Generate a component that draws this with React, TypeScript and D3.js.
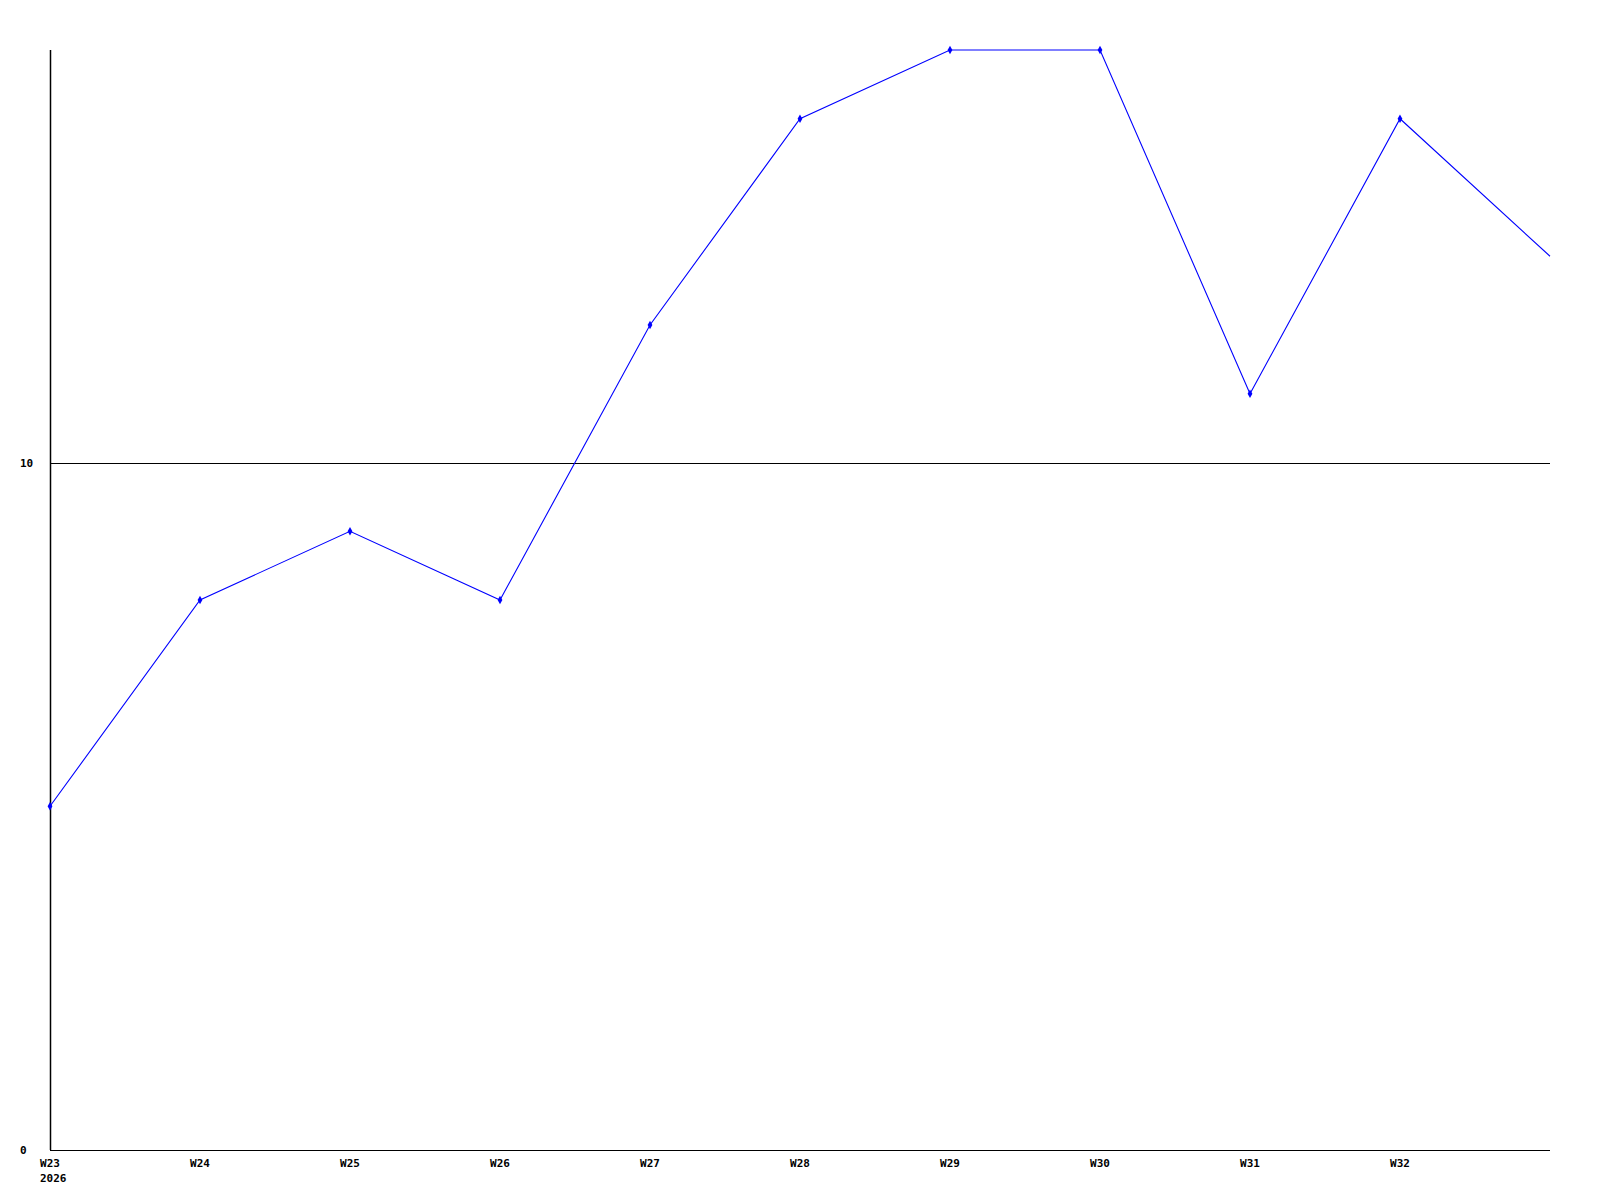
import { useRef, useEffect } from "react";
import * as d3 from "d3";

const weeks = ["W23", "W24", "W25", "W26", "W27", "W28", "W29", "W30", "W31", "W32", "W33"];
const values = [5, 8, 9, 8, 12, 15, 16, 16, 11, 15, 13];
const tickLabels = ["W23", "W24", "W25", "W26", "W27", "W28", "W29", "W30", "W31", "W32"];
const yearLabel = "2026";
const yTicks = [0, 10];

export default function App() {
  const svgRef = useRef<SVGSVGElement>(null);

  useEffect(() => {
    if (!svgRef.current) return;
    const svg = d3.select(svgRef.current);
    svg.selectAll("*").remove();

    const margin = { top: 50, right: 50, bottom: 50, left: 50 };
    const width = 1600 - margin.left - margin.right;
    const height = 1200 - margin.top - margin.bottom;
    const font = "'DejaVu Sans Mono', monospace";

    const x = d3.scalePoint().domain(weeks).range([0, width]);
    const y = d3.scaleLinear().domain([0, 16]).range([height, 0]);

    const g = svg
      .append("g")
      .attr("transform", `translate(${margin.left},${margin.top})`);

    // gridline at 10
    g.append("line")
      .attr("x1", 0)
      .attr("x2", width)
      .attr("y1", Math.round(y(10)) + 0.5)
      .attr("y2", Math.round(y(10)) + 0.5)
      .attr("stroke", "#000")
      .attr("stroke-width", 1);

    // axes
    g.append("line")
      .attr("x1", 0.5)
      .attr("x2", 0.5)
      .attr("y1", 0)
      .attr("y2", height)
      .attr("stroke", "#000")
      .attr("stroke-width", 1.5);
    g.append("line")
      .attr("x1", 0)
      .attr("x2", width)
      .attr("y1", height + 0.5)
      .attr("y2", height + 0.5)
      .attr("stroke", "#000")
      .attr("stroke-width", 1);

    // y labels
    g.selectAll(".ylab")
      .data(yTicks)
      .join("text")
      .attr("x", -30)
      .attr("y", (d) => y(d) + 4)
      .attr("font-family", font)
      .attr("font-weight", "bold")
      .attr("font-size", 11)
      .attr("fill", "#000")
      .text((d) => d);

    // x labels
    g.selectAll(".xlab")
      .data(tickLabels)
      .join("text")
      .attr("x", (d) => x(d)!)
      .attr("y", height + 17)
      .attr("text-anchor", "middle")
      .attr("font-family", font)
      .attr("font-weight", "bold")
      .attr("font-size", 11)
      .attr("fill", "#000")
      .text((d) => d);

    g.append("text")
      .attr("x", x(weeks[0])! - 10)
      .attr("y", height + 32)
      .attr("font-family", font)
      .attr("font-weight", "bold")
      .attr("font-size", 11)
      .attr("fill", "#000")
      .text(yearLabel);

    const pts = weeks.map((w, i) => [x(w)!, y(values[i])] as [number, number]);

    g.append("path")
      .attr("d", d3.line()(pts)!)
      .attr("fill", "none")
      .attr("stroke", "#0000ff")
      .attr("stroke-width", 1.1);

    g.selectAll(".pt")
      .data(pts.slice(0, pts.length - 1))
      .join("path")
      .attr("d", d3.symbol().type(d3.symbolDiamond).size(20)()!)
      .attr("transform", (d) => `translate(${d[0]},${d[1]})`)
      .attr("fill", "#0000ff");
  }, []);

  return (
    <svg
      ref={svgRef}
      width={1600}
      height={1200}
      style={{ position: "absolute", left: 0, top: 0, background: "#fff" }}
    />
  );
}
